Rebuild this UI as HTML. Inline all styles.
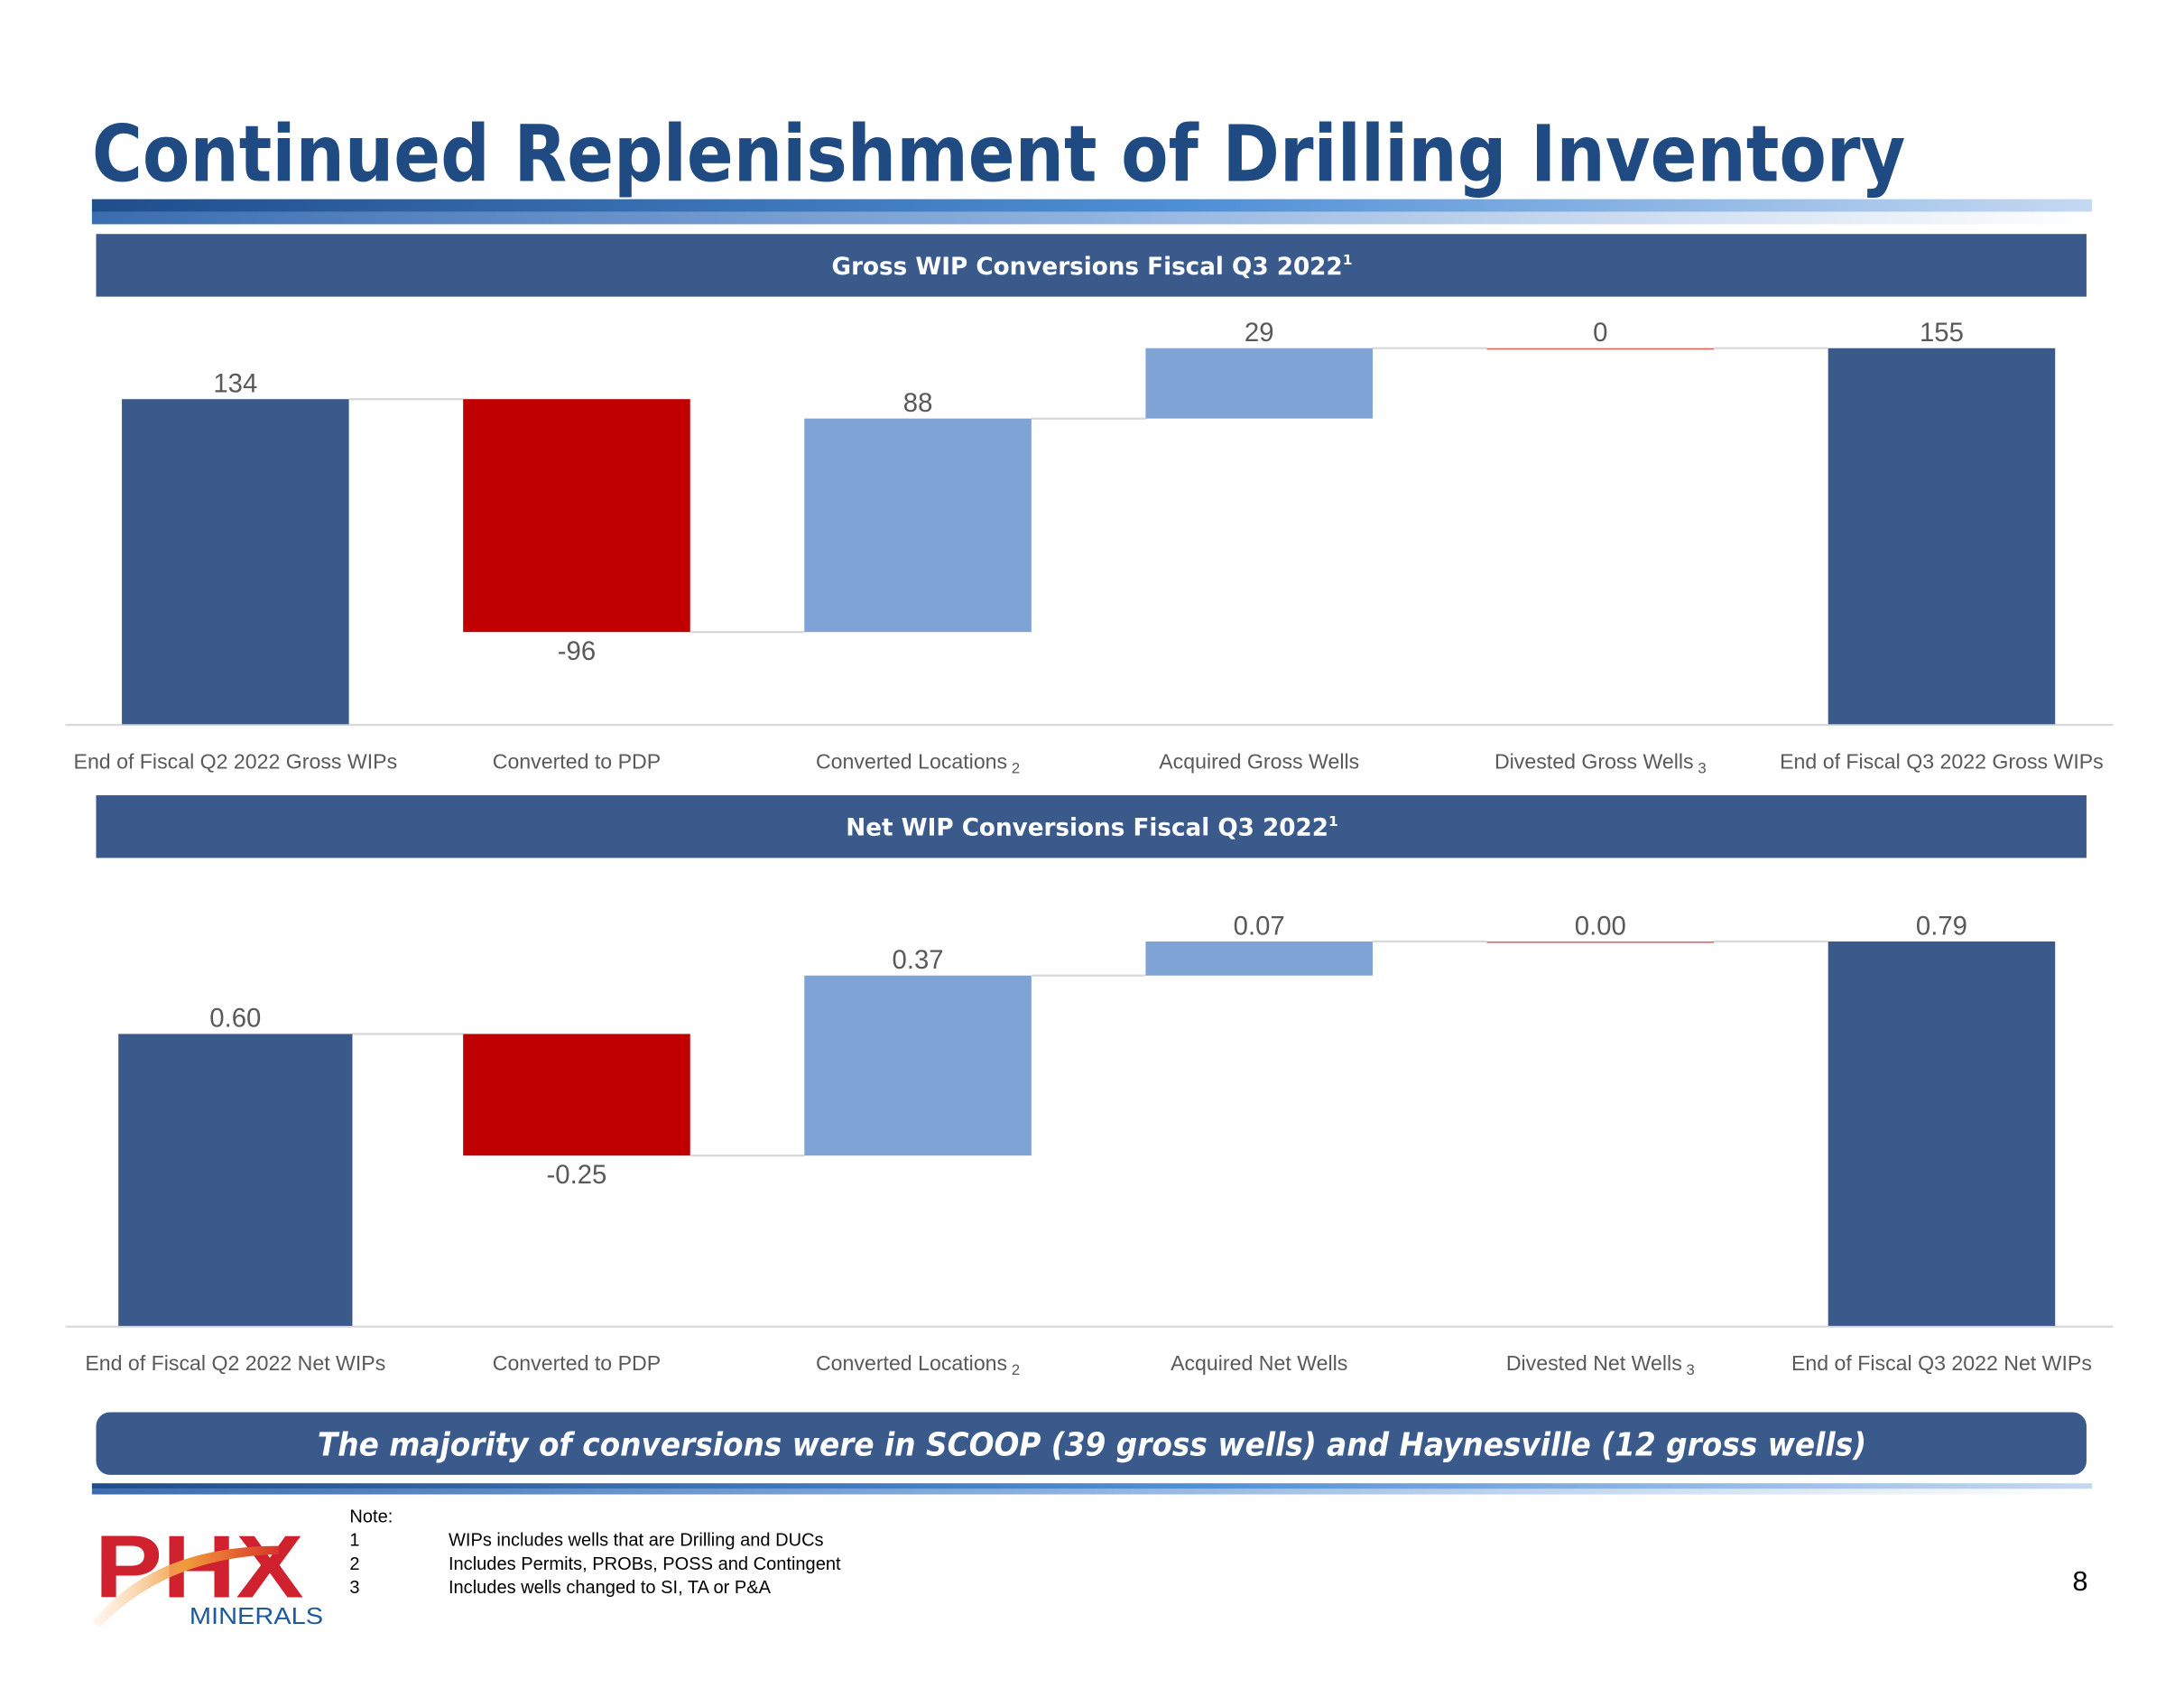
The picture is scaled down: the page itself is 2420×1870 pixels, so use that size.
<!DOCTYPE html>
<html><head><meta charset="utf-8">
<style>
html,body{margin:0;padding:0;background:#fff;}
svg{display:block;}
text{font-family:"Liberation Sans","DejaVu Sans",sans-serif;}
</style></head>
<body>
<svg id="page" width="2420" height="1870" viewBox="0 0 1568 1212" preserveAspectRatio="none" xmlns="http://www.w3.org/2000/svg">
<defs>
<linearGradient id="g1" x1="0" x2="1"><stop offset="0" stop-color="#1f4e8c"/><stop offset="0.55" stop-color="#4f8fd6"/><stop offset="1" stop-color="#c5d9f1"/></linearGradient>
<linearGradient id="g2" x1="0" x2="1"><stop offset="0" stop-color="#3a6db0"/><stop offset="0.5" stop-color="#8fb3e0"/><stop offset="1" stop-color="#ffffff"/></linearGradient>
<linearGradient id="swoosh" x1="0" x2="1"><stop offset="0" stop-color="#fde3c8" stop-opacity="0.3"/><stop offset="0.5" stop-color="#f29a3a"/><stop offset="1" stop-color="#d8352a"/></linearGradient>
</defs>
<text x="66" y="130" font-family="DejaVu Sans" font-weight="bold" font-size="56" fill="#1f4a82" textLength="1302" lengthAdjust="spacingAndGlyphs" style="font-family:'DejaVu Sans',sans-serif">Continued Replenishment of Drilling Inventory</text>
<g>
<rect x="66" y="143" width="1436" height="9" fill="url(#g1)"/>
<rect x="66" y="152" width="1436" height="9" fill="url(#g2)"/>
</g>
<rect x="69" y="168" width="1429" height="45" fill="#3b5a8c"/>
<text x="784" y="197" text-anchor="middle" font-weight="bold" font-size="17" fill="#fff" style="font-family:'DejaVu Sans',sans-serif">Gross WIP Conversions Fiscal Q3 2022<tspan font-size="10" dy="-7">1</tspan></text>
<g id="chart1"></g>
<rect x="69" y="571" width="1429" height="45" fill="#3b5a8c"/>
<text x="784" y="600" text-anchor="middle" font-weight="bold" font-size="17" fill="#fff" style="font-family:'DejaVu Sans',sans-serif">Net WIP Conversions Fiscal Q3 2022<tspan font-size="10" dy="-7">1</tspan></text>
<g id="chart2"></g>
<rect x="69" y="1014" width="1429" height="45" rx="10" fill="#3b5a8c"/>
<text x="784" y="1045" text-anchor="middle" font-weight="bold" font-style="italic" font-size="23" fill="#fff" textLength="1112" lengthAdjust="spacingAndGlyphs" style="font-family:'DejaVu Sans',sans-serif">The majority of  conversions were in SCOOP (39 gross wells) and Haynesville (12 gross wells)</text>
<g>
<rect x="66" y="1065" width="1436" height="4" fill="url(#g1)"/>
<rect x="66" y="1069" width="1436" height="4" fill="url(#g2)"/>
</g>
<g>
<text x="68" y="1147" font-weight="bold" font-size="64" fill="#d0222e" textLength="150" lengthAdjust="spacingAndGlyphs">PHX</text>
<path d="M66 1165 Q110 1110 200 1110 L200 1116 Q120 1118 72 1168 Z" fill="url(#swoosh)"/>
<text x="136" y="1166" font-size="17" fill="#1f5a9c" textLength="96" lengthAdjust="spacingAndGlyphs">MINERALS</text>
</g>
<g font-size="13" fill="#000" style="font-family:'DejaVu Sans',sans-serif">
<text x="251" y="1093">Note:</text>
<text x="251" y="1110">1</text><text x="322" y="1110">WIPs includes wells that are Drilling and DUCs</text>
<text x="251" y="1127">2</text><text x="322" y="1127">Includes Permits, PROBs, POSS and Contingent</text>
<text x="251" y="1144">3</text><text x="322" y="1144">Includes wells changed to SI, TA or P&amp;A</text>
</g>
<text x="1499" y="1142" text-anchor="end" font-size="20" fill="#000">8</text>
</svg>
<script>
// Gross chart data
const grossCategories = ["End of Fiscal Q2 2022 Gross WIPs","Converted to PDP","Converted Locations","Acquired Gross Wells","Divested Gross Wells","End of Fiscal Q3 2022 Gross WIPs"];
const grossFootnotes = ["","","2","","3",""];
const grossStart = 134;
const grossDeltas = [-96, 88, 29, 0];
const grossLabels = ["134","-96","88","29","0","155"];
// Net chart data
const netCategories = ["End of Fiscal Q2 2022 Net WIPs","Converted to PDP","Converted Locations","Acquired Net Wells","Divested Net Wells","End of Fiscal Q3 2022 Net WIPs"];
const netFootnotes = ["","","2","","3",""];
const netStart = 0.60;
const netDeltas = [-0.25, 0.37, 0.07, 0.00];
const netLabels = ["0.60","-0.25","0.37","0.07","0.00","0.79"];

const NS = "http://www.w3.org/2000/svg";
function mk(tag, attrs, parent){
  const e = document.createElementNS(NS, tag);
  for (const k in attrs) e.setAttribute(k, attrs[k]);
  parent.appendChild(e);
  return e;
}
function drawWaterfall(gid, cats, notes, start, deltas, labels, base, top, maxV, firstW){
  const g = document.getElementById(gid);
  const y = v => base - v * (base - top) / maxV;
  const cx = i => 169 + i * 245;
  const bwOf = i => (i === 0 ? firstW : 163);
  mk("line",{x1:47,x2:1517,y1:base+0.5,y2:base+0.5,stroke:"#d9d9d9","stroke-width":1.5},g);
  const segs = [];
  segs.push({from:0,to:start,type:"total"});
  let cur = start;
  deltas.forEach(d=>{ segs.push({from:cur,to:cur+d,type:d<0?"neg":(d===0?"zero":"pos")}); cur += d; });
  segs.push({from:0,to:cur,type:"total"});
  segs.forEach((s,i)=>{
    const bw = bwOf(i);
    const y1 = y(Math.max(s.from,s.to)), y2 = y(Math.min(s.from,s.to));
    const color = s.type==="total"?"#3b5a8c":(s.type==="neg"?"#c00000":(s.type==="zero"?"#e06060":"#7fa3d5"));
    const r = mk("rect",{x:cx(i)-bw/2,y:y1,width:bw,height:Math.max(y2-y1,1),fill:color},g);
    
    
    if (i < segs.length-1){
      const c = mk("line",{x1:cx(i)+bw/2,x2:cx(i+1)-bwOf(i+1)/2,y1:y(s.to),y2:y(s.to),stroke:"#d9d9d9","stroke-width":1.5},g);
      
      
    }
    const neg = s.type==="neg";
    const t = mk("text",{x:cx(i),y:neg? y2+20 : y1-5,"text-anchor":"middle","font-size":19,fill:"#595959"},g);
    t.textContent = labels[i];
    
    
    const ct = mk("text",{x:cx(i),y:base+32,"text-anchor":"middle","font-size":15,fill:"#595959"},g);
    ct.textContent = cats[i];
    if (notes[i]) { const ts = mk("tspan",{"font-size":11,dy:3,dx:3},ct); ts.textContent = notes[i]; }
    
    
  });
}
drawWaterfall("chart1", grossCategories, grossFootnotes, grossStart, grossDeltas, grossLabels, 520, 250, 155, 163);
drawWaterfall("chart2", netCategories, netFootnotes, netStart, netDeltas, netLabels, 952, 676, 0.79, 168);
</script>
</body></html>
